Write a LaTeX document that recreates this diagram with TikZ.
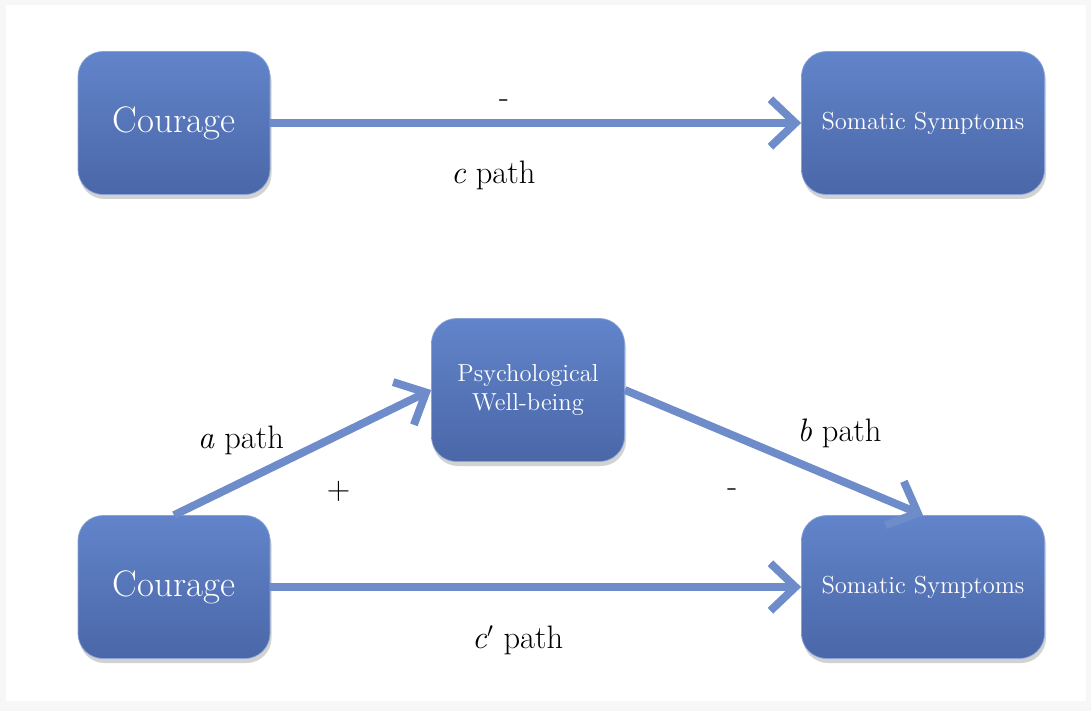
\documentclass[tikz,border=0pt]{standalone}
\usetikzlibrary{positioning,arrows.meta,shadows}
\definecolor{boxtop}{HTML}{6284CA}
\definecolor{boxbot}{HTML}{4A67A8}
\definecolor{arrowblue}{HTML}{6E8CC9}

\begin{document}
\begin{tikzpicture}[on grid,
   var/.style={rounded corners=0.5cm, minimum height=2.86cm, text=white,
     top color=boxtop, bottom color=boxbot, draw=boxtop!75!white, thin,
     drop shadow={opacity=0.35,shadow xshift=0.3mm,shadow yshift=-0.9mm},
     align=center, font=\fontsize{14}{16.5}\selectfont},
   big/.style={font=\fontsize{21}{24}\selectfont},
   link/.style={color=arrowblue, line width=4.5pt,
     -{Straight Barb[length=5mm,width=9.5mm]}},
   lbl/.style={font=\fontsize{18.5}{22}\selectfont, text=black}]
   \useasboundingbox (0,0) rectangle (21.82,14.22);
   \fill[black!3] (0,0) rectangle (21.82,14.22);
   \fill[white] (0.12,0.2) rectangle (21.72,14.12);

   \node[var,big,minimum width=3.84cm] (cour_1) at (3.48,11.76) {Courage};
   \node[var,minimum width=4.86cm] (som_1) [right=14.98cm of cour_1] {Somatic Symptoms};
   \node[var,big,minimum width=3.84cm] (cour_2) [below=9.28cm of cour_1] {Courage};
   \node[var,minimum width=4.86cm] (som_2) [below=9.28cm of som_1] {Somatic Symptoms};
   \node[var,minimum width=3.86cm] (well) [above right=3.94cm and 7.08cm of cour_2] {Psychological\\Well-being};

   \path[link]
    (cour_1.east) edge node[lbl,pos=.44,yshift=3.9mm] (sign_c) {-}
                       node[lbl,pos=.42,yshift=-10.4mm] (lbl_c) {\textit{c} path} (som_1.west)
    (cour_2.north) edge node[lbl,pos=.26,yshift=8.4mm] (lbl_a) {\textit{a} path}
                        node[lbl,pos=.64,yshift=-11.3mm] (sign_a) {+} (well.west)
    (well.east) edge node[lbl,pos=.72,yshift=9.4mm] (lbl_b) {\textit{b} path}
                     node[lbl,pos=.36,yshift=-11.6mm] (sign_b) {-} (som_2.north)
    (cour_2.east) edge node[lbl,pos=.466,yshift=-10.7mm] (lbl_cp) {\textit{c}$'$ path} (som_2.west);
\end{tikzpicture}
\end{document}
